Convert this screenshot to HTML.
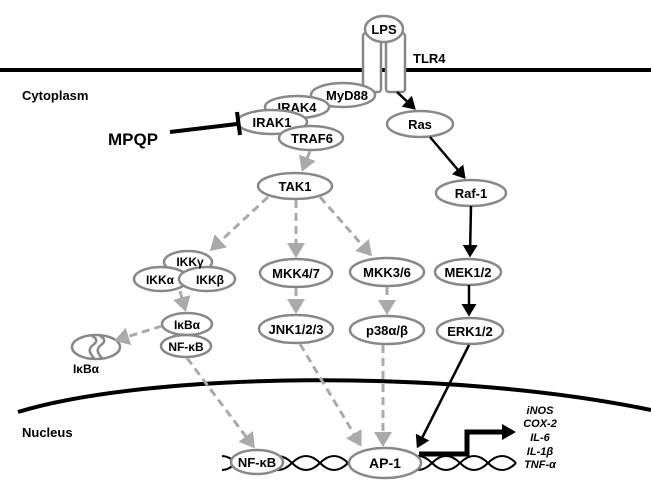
<!DOCTYPE html>
<html><head><meta charset="utf-8"><style>
html,body{margin:0;padding:0;background:#fff;}
svg{display:block;font-family:"Liberation Sans",sans-serif;font-weight:bold;}
</style></head><body>
<svg width="651" height="492" viewBox="0 0 651 492" xmlns="http://www.w3.org/2000/svg">
<defs>
<marker id="ag" markerWidth="6" markerHeight="6" refX="4" refY="3" orient="auto" markerUnits="strokeWidth"><path d="M0,0 L5,3 L0,6 z" fill="#aaa"/></marker>
<marker id="ab" markerWidth="6" markerHeight="6" refX="4" refY="3" orient="auto" markerUnits="strokeWidth"><path d="M0,0 L5,3 L0,6 z" fill="#000"/></marker>
</defs>
<!-- membrane -->
<line x1="0" y1="70" x2="651" y2="70" stroke="#000" stroke-width="4"/>
<rect x="363" y="33" width="18" height="59" rx="3" fill="#fff" stroke="#888" stroke-width="2.5"/>
<rect x="386" y="33" width="19" height="59" rx="3" fill="#fff" stroke="#888" stroke-width="2.5"/>
<ellipse cx="384" cy="29" rx="19" ry="13" fill="#fff" stroke="#888" stroke-width="2.5"/>
<text x="384" y="34" font-size="13" text-anchor="middle">LPS</text>
<text x="413" y="63" font-size="13">TLR4</text>
<text x="22" y="100" font-size="13">Cytoplasm</text>
<text x="22" y="437" font-size="13">Nucleus</text>
<!-- nucleus -->
<path d="M18,412 C150,372 450,368 651,410" fill="none" stroke="#000" stroke-width="4"/>
<!-- adaptor cluster -->
<ellipse cx="343" cy="95" rx="32" ry="12" fill="#fff" stroke="#888" stroke-width="2.5"/>
<text x="347" y="100" font-size="13" text-anchor="middle">MyD88</text>
<ellipse cx="297" cy="107" rx="32" ry="11" fill="#fff" stroke="#888" stroke-width="2.5"/>
<text x="297" y="112" font-size="13" text-anchor="middle">IRAK4</text>
<ellipse cx="272" cy="122" rx="35" ry="12" fill="#fff" stroke="#888" stroke-width="2.5"/>
<text x="272" y="127" font-size="13" text-anchor="middle">IRAK1</text>
<ellipse cx="311" cy="138" rx="32" ry="12" fill="#fff" stroke="#888" stroke-width="2.5"/>
<text x="312" y="143" font-size="13" text-anchor="middle">TRAF6</text>
<!-- MPQP -->
<text x="108" y="145" font-size="17">MPQP</text>
<line x1="170" y1="132" x2="237" y2="124" stroke="#000" stroke-width="4"/>
<line x1="237" y1="112" x2="240" y2="135" stroke="#000" stroke-width="4"/>
<!-- nodes -->
<g fill="#fff" stroke="#888" stroke-width="2.5">
<ellipse cx="295" cy="186" rx="37" ry="13"/>
<ellipse cx="420" cy="124" rx="33" ry="13"/>
<ellipse cx="471" cy="193" rx="35" ry="13"/>
<ellipse cx="468" cy="272" rx="33" ry="13"/>
<ellipse cx="470" cy="331" rx="33" ry="13"/>
<ellipse cx="296" cy="273" rx="36" ry="14"/>
<ellipse cx="296" cy="329" rx="37" ry="14"/>
<ellipse cx="387" cy="272" rx="37" ry="14"/>
<ellipse cx="387" cy="330" rx="37" ry="14"/>
<ellipse cx="188" cy="262" rx="24" ry="11"/>
<ellipse cx="161" cy="279" rx="27" ry="12"/>
<ellipse cx="207" cy="279" rx="28" ry="12"/>
<ellipse cx="187" cy="324" rx="25" ry="11"/>
<ellipse cx="186" cy="346" rx="25" ry="11"/>
<ellipse cx="96" cy="347" rx="24" ry="12"/>
</g>
<path d="M92,336 Q100,340 93,345 Q86,350 94,358" fill="none" stroke="#888" stroke-width="2.5"/>
<path d="M100,336 Q108,340 101,345 Q94,350 102,358" fill="none" stroke="#888" stroke-width="2.5"/>
<g font-size="13" text-anchor="middle">
<text x="295" y="191">TAK1</text>
<text x="420" y="129">Ras</text>
<text x="471" y="198">Raf-1</text>
<text x="468" y="277">MEK1/2</text>
<text x="470" y="336">ERK1/2</text>
<text x="296" y="278">MKK4/7</text>
<text x="296" y="334">JNK1/2/3</text>
<text x="387" y="277">MKK3/6</text>
<text x="387" y="335">p38α/β</text>
<text x="190" y="266" font-size="12">IKKγ</text>
<text x="160" y="284" font-size="12">IKKα</text>
<text x="210" y="284" font-size="12">IKKβ</text>
<text x="187" y="329" font-size="12">IκBα</text>
<text x="186" y="351" font-size="12">NF-κB</text>
<text x="86" y="373" font-size="12">IκBα</text>
</g>
<!-- grey dashed arrows -->
<g stroke="#aaa" stroke-width="3" stroke-dasharray="8,5" fill="none" marker-end="url(#ag)">
<line x1="310" y1="151" x2="303" y2="169"/>
<line x1="268" y1="197" x2="212" y2="249"/>
<line x1="296" y1="200" x2="296" y2="255"/>
<line x1="320" y1="197" x2="370" y2="254"/>
<line x1="296" y1="288" x2="296" y2="311"/>
<line x1="387" y1="287" x2="387" y2="312"/>
<line x1="180" y1="291" x2="185" y2="309"/>
<line x1="162" y1="326" x2="117" y2="340"/>
<line x1="187" y1="358" x2="253" y2="446"/>
<line x1="300" y1="344" x2="360" y2="444"/>
<line x1="383" y1="345" x2="383" y2="444"/>
</g>
<!-- black arrows -->
<g stroke="#000" stroke-width="2.5" fill="none" marker-end="url(#ab)">
<line x1="397" y1="92" x2="414" y2="108"/>
<line x1="430" y1="137" x2="464" y2="177"/>
<line x1="471" y1="206" x2="470" y2="255"/>
<line x1="469" y1="285" x2="469" y2="314"/>
<line x1="469" y1="345" x2="418" y2="446"/>
</g>
<!-- DNA -->
<path d="M222,456 q7,0 14,7 t14,7 t14,-7 t14,-7 t14,7 t14,7 t14,-7 t14,-7 t14,7 t14,7 t14,-7 t14,-7 t14,7 t14,7 t14,-7 t14,-7 t14,7 t14,7 t14,-7 t14,-7 t14,7" fill="none" stroke="#000" stroke-width="2"/>
<path d="M222,470 q7,0 14,-7 t14,-7 t14,7 t14,7 t14,-7 t14,-7 t14,7 t14,7 t14,-7 t14,-7 t14,7 t14,7 t14,-7 t14,-7 t14,7 t14,7 t14,-7 t14,-7 t14,7 t14,7 t14,-7" fill="none" stroke="#000" stroke-width="2"/>
<ellipse cx="257" cy="462" rx="26" ry="12" fill="#fff" stroke="#888" stroke-width="2.5"/>
<text x="257" y="467" font-size="13" text-anchor="middle">NF-κB</text>
<ellipse cx="385" cy="463" rx="36" ry="15" fill="#fff" stroke="#888" stroke-width="2.5"/>
<text x="385" y="468" font-size="14" text-anchor="middle">AP-1</text>
<!-- gene arrow -->
<path d="M419,454 L467,454 L467,432 L503,432" fill="none" stroke="#000" stroke-width="5"/>
<path d="M502,424 L516,432 L502,440 z" fill="#000"/>
<g font-size="11" font-style="italic" text-anchor="middle">
<text x="540" y="414">iNOS</text>
<text x="540" y="427">COX-2</text>
<text x="540" y="441">IL-6</text>
<text x="540" y="455">IL-1β</text>
<text x="540" y="468">TNF-α</text>
</g>
</svg>
</body></html>
